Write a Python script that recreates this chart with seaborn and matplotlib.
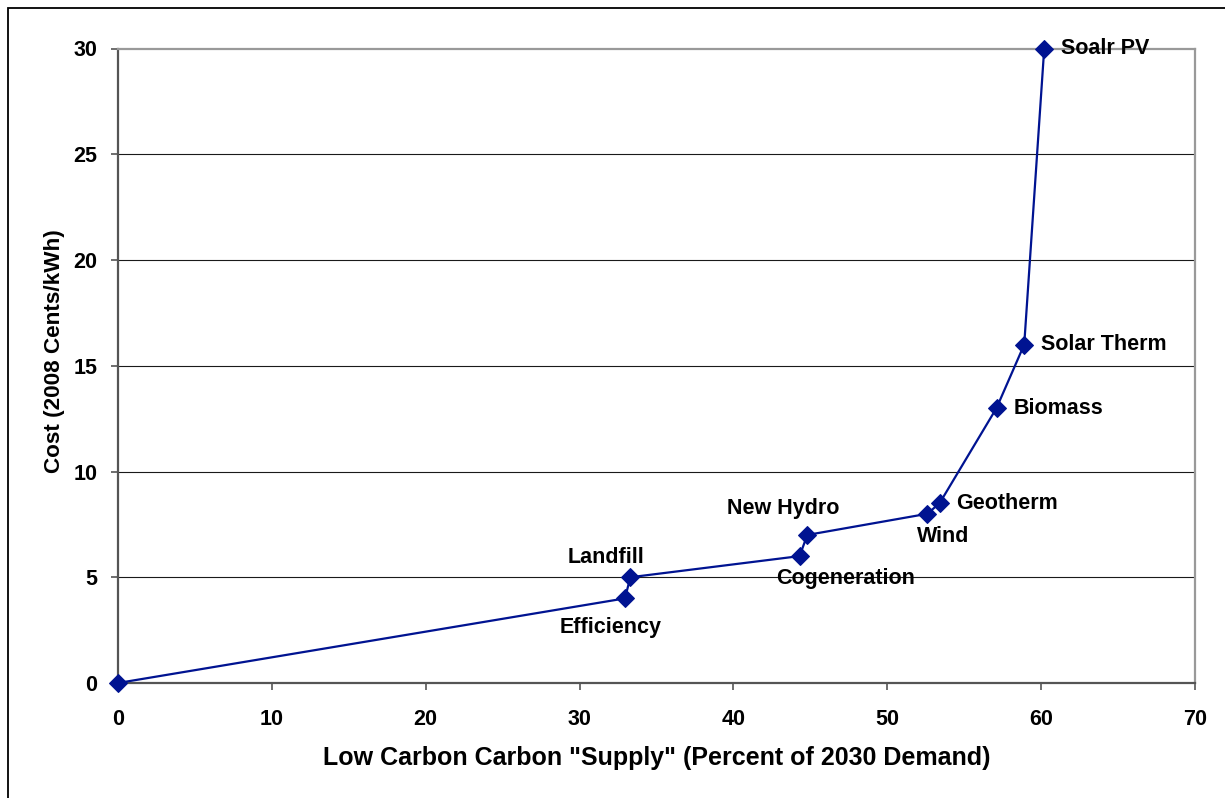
import matplotlib
matplotlib.use('Agg')
import matplotlib.pyplot as plt
import seaborn as sns
import pandas as pd
from matplotlib.patches import Rectangle

# supply curve points
sources = ['', 'Efficiency', 'Landfill', 'Cogeneration', 'New Hydro', 'Wind',
           'Geotherm', 'Biomass', 'Solar Therm', 'Soalr PV']
supply = [0, 32.95, 33.3, 44.3, 44.8, 52.6, 53.4, 57.1, 58.9, 60.2]
cost = [0, 4, 5, 6, 7, 8, 8.5, 13, 16, 30]
# label offsets in pixels (dx, dy, horizontal alignment)
label_pos = {
    'Efficiency': (-14, -29, 'center'),
    'Landfill': (-24, 20, 'center'),
    'Cogeneration': (46, -22, 'center'),
    'New Hydro': (-24, 26, 'center'),
    'Wind': (16, -23, 'center'),
    'Geotherm': (17, 0, 'left'),
    'Biomass': (17, 0, 'left'),
    'Solar Therm': (17, 0, 'left'),
    'Soalr PV': (17, 0, 'left'),
}

df = pd.DataFrame({'Source': sources, 'Supply': supply, 'Cost': cost})

sns.set_style('white')
plt.rcParams['font.family'] = ['Liberation Sans', 'DejaVu Sans']
plt.rcParams['font.weight'] = 'bold'
plt.rcParams['text.color'] = 'black'
plt.rcParams['axes.labelcolor'] = 'black'
plt.rcParams['xtick.color'] = 'black'
plt.rcParams['ytick.color'] = 'black'

fig = plt.figure(figsize=(12.25, 7.98), dpi=100)
ax = fig.add_axes([118/1225, 1-683/798, (1195-118)/1225, (683-48.5)/798])

navy = '#001391'
sns.lineplot(data=df, x='Supply', y='Cost', sort=False, marker='D', color=navy,
             linewidth=1.6, markersize=9.5, markeredgecolor=navy, ax=ax, zorder=5,
             clip_on=False)

for name, x, y in zip(sources, supply, cost):
    if name not in label_pos:
        continue
    dx, dy, ha = label_pos[name]
    ax.annotate(name, (x, y), xytext=(dx*0.72, dy*0.72), textcoords='offset points',
                ha=ha, va='center', fontsize=15.5, fontweight='bold', color='black')

ax.set_xlim(0, 70)
ax.set_ylim(0, 30)
ax.set_xticks(range(0, 71, 10))
ax.set_yticks(range(0, 31, 5))
ax.tick_params(axis='both', labelsize=15.5, length=5, width=1.2, color='#555555',
               labelcolor='black', direction='out')
ax.tick_params(axis='y', left=True, pad=10)
ax.tick_params(axis='x', bottom=True, pad=14)
for lab in ax.get_xticklabels() + ax.get_yticklabels():
    lab.set_fontweight('bold')

for yv in range(5, 30, 5):
    ax.axhline(yv, color='#1a1a1a', linewidth=0.8, zorder=1)

ax.spines['left'].set_color('#555555')
ax.spines['bottom'].set_color('#555555')
ax.spines['top'].set_color('#999999')
ax.spines['right'].set_color('#999999')
for s in ax.spines.values():
    s.set_linewidth(1.6)
    s.set_visible(True)

ax.set_xlabel('Low Carbon Carbon "Supply" (Percent of 2030 Demand)', fontsize=18,
              fontweight='bold', labelpad=11)
ax.set_ylabel('Cost (2008 Cents/kWh)', fontsize=16.2, fontweight='bold')
ax.yaxis.set_label_coords(-0.049, 0.523)

# outer frame of the original image
fig.patches.append(Rectangle((8/1225, -0.1), 1.2, 1-8/798+0.1, transform=fig.transFigure,
                             fill=False, edgecolor='black', linewidth=1.3))

fig.savefig('out.png', dpi=100)
